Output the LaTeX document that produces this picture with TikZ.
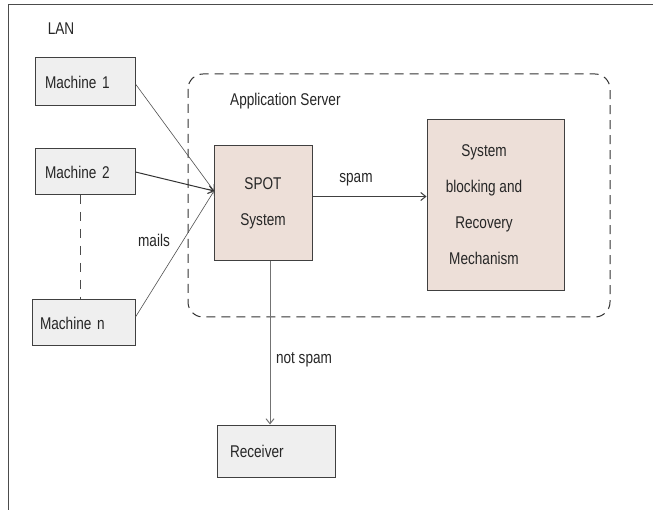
\documentclass[tikz,border=0pt]{standalone}
\usepackage{fontspec}
\setmainfont{Liberation Sans}[FakeStretch=0.8]
\usetikzlibrary{arrows.meta}
\definecolor{boxgray}{HTML}{EFEFEF}
\definecolor{boxpink}{HTML}{EDDFD8}
\definecolor{edge}{HTML}{404040}
\definecolor{wire}{HTML}{505050}
\tikzset{
  txt/.style={font=\fontsize{17}{36}\selectfont, text=black!85, inner sep=0pt},
  graybox/.style={draw=edge, line width=1pt, fill=boxgray, minimum height=48pt,
    align=left, inner ysep=0pt, font=\fontsize{17}{36}\selectfont, text=black!85},
  pinkbox/.style={draw=edge, line width=1pt, fill=boxpink, inner sep=0pt, text=black!85},
  wirearrow/.style={draw=wire, line width=0.6pt, -{Straight Barb[length=5pt,width=8pt]}},
  dashbox/.style={draw=black!80, line width=1pt, dash pattern=on 9pt off 6pt, rounded corners=15pt},
}
\begin{document}
\begin{tikzpicture}[x=1pt,y=-1pt]
\useasboundingbox (0,0) rectangle (653,510);
% outer frame (open on right and bottom)
\draw[draw=black!70, line width=1pt] (8,510) -- (8,5) -- (653,5);
\node[txt] (lan) at (61,29) {LAN};

% application server region
\draw[dashbox] (188,74) rectangle (610,317);
\node[txt, anchor=west] (appsrv) at (230,101) {Application Server};

% machines
\node[graybox, text width=80pt, inner xsep=10pt, minimum height=48pt] (m1) at (85,82) {Machine 1};
\node[graybox, text width=80pt, inner xsep=10pt, minimum height=46pt] (m2) at (85,172) {Machine 2};
\node[graybox, text width=87pt, inner xsep=8pt, minimum height=46pt] (mn) at (83.5,323) {Machine n};
\draw[draw=black!70, line width=1pt, dash pattern=on 9pt off 8pt] (80,195) -- (mn.north -| 80,0);

% SPOT system
\node[pinkbox, minimum width=98pt, minimum height=115pt, align=center,
      font=\fontsize{17}{36}\selectfont] (spot) at (263,203.5) {SPOT\\System};
\coordinate (spotin) at (214,191);

% recovery mechanism
\node[pinkbox, minimum width=137pt, minimum height=171pt] (rec) at (495.5,205.5) {};
\node[txt, align=center] (rectext) at (484,205) {System\\blocking and\\Recovery\\Mechanism};

% receiver
\node[graybox, text width=92pt, inner xsep=13pt, minimum height=52pt] (recv) at (276,451) {Receiver};

% mail arrows
\draw[wirearrow] ([yshift=-2pt]m1.east) -- (spotin);
\draw[wirearrow, line width=1pt, draw=black!80] (m2.east) -- (spotin);
\draw[wirearrow] ([yshift=6pt]mn.east) -- (spotin);
\node[txt] (mails) at (154,240) {mails};

% spam
\draw[wirearrow, line width=1pt, draw=black!75] ([yshift=7pt]spot.east) -- ([yshift=7pt]rec.west |- spot.east);
\node[txt] (spam) at (356,180) {spam};

% not spam
\draw[wirearrow, line width=1pt, draw=black!55] (spot.south -| 270,0) -- (recv.north -| 270,0);
\node[txt] (notspam) at (304,360) {not spam};
\end{tikzpicture}
\end{document}
